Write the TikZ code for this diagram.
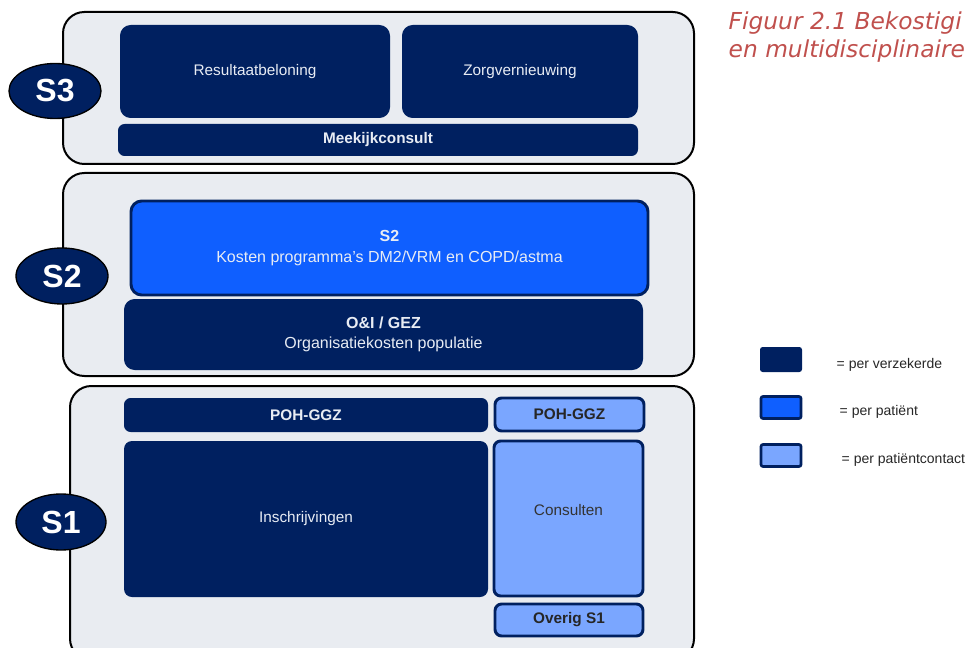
\documentclass[tikz,border=0pt]{standalone}
\usepackage{fontspec}
\setmainfont{Liberation Sans}
\newfontfamily\capfont{DejaVu Sans}
\usetikzlibrary{shapes.geometric}
\definecolor{navy}{RGB}{0,32,96}
\definecolor{brightblue}{RGB}{15,95,255}
\definecolor{lightblue}{RGB}{122,166,255}
\definecolor{panel}{RGB}{233,236,241}
\definecolor{captred}{RGB}{192,80,77}
\definecolor{softwhite}{RGB}{232,236,244}
\tikzset{
  sz/.style 2 args={minimum width=#1*0.75pt, minimum height=#2*0.75pt, inner sep=0pt},
  panelbox/.style={draw=black, line width=1.5pt, fill=panel, rounded corners=16pt},
  darkbox/.style={fill=navy, text=softwhite, rounded corners=8pt, font=\fontsize{11.5}{15.5}\selectfont, align=center},
  bluebox/.style={fill=brightblue, draw=navy, line width=2.2pt, text=softwhite, rounded corners=8pt, font=\fontsize{11.5}{15.5}\selectfont, align=center},
  lightbox/.style={fill=lightblue, draw=navy, line width=2.2pt, text=black!85, rounded corners=5pt, font=\fontsize{11.5}{14}\selectfont, align=center},
  levelell/.style={ellipse, draw=black, line width=1pt, fill=navy, text=white, font=\fontsize{24}{26}\selectfont\bfseries, inner sep=0pt},
  legtext/.style={anchor=west, font=\fontsize{10.5}{12}\selectfont, text=black!85},
  capt/.style={anchor=west, font=\capfont\itshape\fontsize{17.5}{20}\selectfont, text=captred}
}
\begin{document}
\begin{tikzpicture}[x=0.75pt,y=-0.75pt]
\useasboundingbox (0,0) rectangle (969,648);
% S3 panel
\node[panelbox, sz={631}{152}] (p3) at (378.5,88) {};
\node[darkbox, sz={270}{93}] (res) at (255,71.5) {Resultaatbeloning};
\node[darkbox, sz={236}{93}] (zorg) at (520,71.5) {Zorgvernieuwing};
\node[darkbox, sz={520}{32}, rounded corners=5pt] (meek) at (378,140) {\bfseries Meekijkconsult};
\node[levelell, sz={92}{55}] (s3) at (55,91) {S3};
% S2 panel
\node[panelbox, sz={631}{203}] (p2) at (378.5,274.5) {};
\node[bluebox, sz={517}{94}, font=\fontsize{12}{15.5}\selectfont] (s2box) at (389.5,248) {\bfseries S2\\Kosten programma's DM2/VRM en COPD/astma};
\node[darkbox, sz={519}{71}, font=\fontsize{12}{15.5}\selectfont] (oi) at (383.5,334.5) {\bfseries O\&I / GEZ\\Organisatiekosten populatie};
\node[levelell, sz={92}{56}] (s2) at (62,276) {S2};
% S1 panel
\node[panelbox, sz={624}{274}] (p1) at (382,523) {};
\node[darkbox, sz={364}{34}, rounded corners=5pt] (pohd) at (306,415) {\bfseries POH-GGZ};
\node[lightbox, sz={149}{33}] (pohl) at (569.5,414.5) {\bfseries POH-GGZ};
\node[darkbox, sz={364}{156}, rounded corners=6pt] (insch) at (306,519) {Inschrijvingen};
\node[lightbox, sz={149}{155}] (cons) at (568.5,518.5) {};
\node[font=\fontsize{11.5}{13}\selectfont, text=black!80] (conslab) at (568.5,510) {Consulten};
\node[lightbox, sz={148}{32}] (overig) at (569,620) {\bfseries Overig S1};
\node[levelell, sz={90}{56}] (s1) at (61,522) {S1};
% legend
\node[fill=navy, rounded corners=2pt, sz={42}{25}] (l1) at (781,359.5) {};
\node[legtext] (t1) at (832,365) {= per verzekerde};
\node[fill=brightblue, draw=navy, line width=2pt, rounded corners=1.5pt, sz={40}{22}] (l2) at (781,407.5) {};
\node[legtext] (t2) at (835,412) {= per patiënt};
\node[fill=lightblue, draw=navy, line width=2pt, rounded corners=1.5pt, sz={40}{22}] (l3) at (781,455.5) {};
\node[legtext] (t3) at (837,460) {= per patiëntcontact};
% caption
\node[capt] (c1) at (724,23) {Figuur 2.1 Bekostigi};
\node[capt] (c2) at (724,51) {en multidisciplinaire};
\end{tikzpicture}
\end{document}
